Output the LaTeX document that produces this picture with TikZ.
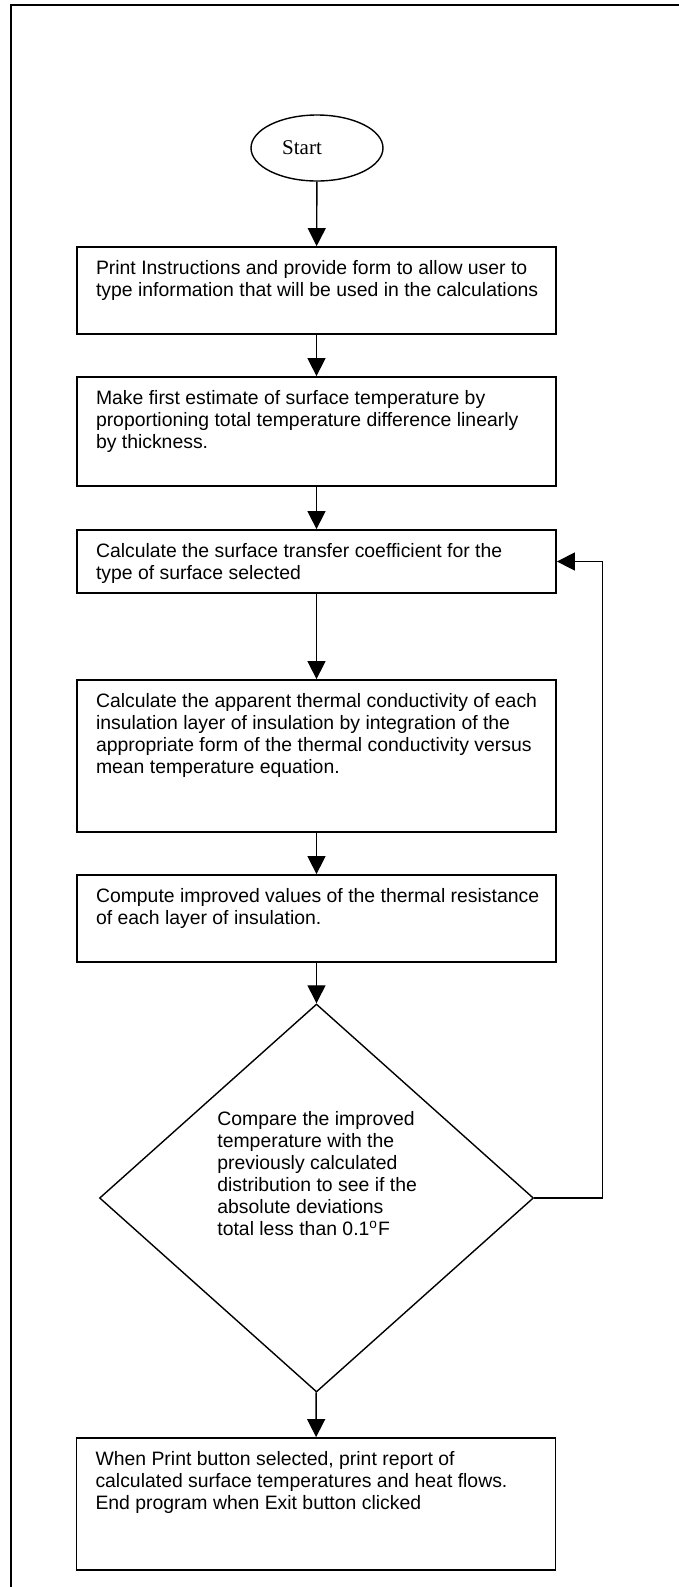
\documentclass[tikz,border=0pt]{standalone}
\usepackage{fontspec}
\setmainfont{Liberation Sans}
\newfontfamily\startfont{Liberation Serif}
\usetikzlibrary{arrows.meta, shapes.geometric, positioning}

\begin{document}
\begin{tikzpicture}[x = 0.5pt, y = -0.5pt, line width = 0.9pt,
		box/.style = {draw, rectangle, inner sep=0pt, minimum width=239.5pt},
		txt/.style = {anchor=north west, align=left, inner sep=0pt, font=\fontsize{9.7}{11}\selectfont},
		flow/.style = {-{Triangle[length=9pt, width=9pt]}, line width=0.7pt}]
	\useasboundingbox (0,0) rectangle (679,1587);
	\draw (679,5) -- (11,5) -- (11,1587);

	\node[draw, ellipse, line width=0.7pt, inner sep=0pt, minimum width=66pt, minimum height=33pt, font=\startfont\fontsize{10.5}{12}\selectfont] (start) at (317,148) {Start\hspace*{15pt}};

	\node[box, minimum height=43.5pt] (b1) at (316.5,290.5) {};
	\node[box, minimum height=54.5pt] (b2) at (316.5,431.5) {};
	\node[box, minimum height=31.5pt] (b3) at (316.5,561.5) {};
	\node[box, minimum height=76pt] (b4) at (316.5,756) {};
	\node[box, minimum height=43.5pt] (b5) at (316.5,918.5) {};
	\node[draw, diamond, line width=0.7pt, inner sep=0pt, minimum width=217pt, minimum height=194pt] (cmp) at (316.5,1198) {};
	\node[box, minimum height=66pt] (b6) at (316,1504) {};

	\node[txt] (b1t) at ([shift={(19,13)}]b1.north west) {Print Instructions and provide form to allow user to\\type information that will be used in the calculations};
	\node[txt] (b2t) at ([shift={(19,13)}]b2.north west) {Make first estimate of surface temperature by\\proportioning total temperature difference linearly\\by thickness.};
	\node[txt] (b3t) at ([shift={(19,13)}]b3.north west) {Calculate the surface transfer coefficient for the\\type of surface selected};
	\node[txt] (b4t) at ([shift={(19,13)}]b4.north west) {Calculate the apparent thermal conductivity of each\\insulation layer of insulation by integration of the\\appropriate form of the thermal conductivity versus\\mean temperature equation.};
	\node[txt] (b5t) at ([shift={(19,13)}]b5.north west) {Compute improved values of the thermal resistance\\of each layer of insulation.};
	\node[txt] (cmpt) at (216.5,1111) {Compare the improved\\temperature with the\\previously calculated\\distribution to see if the\\absolute deviations\\total less than 0.1\textsuperscript{o}F};
	\node[txt] (b6t) at ([shift={(19,13)}]b6.north west) {When Print button selected, print report of\\calculated surface temperatures and heat flows.\\End program when Exit button clicked};

	\path[flow]
		(start) edge (b1)
		(b1) edge (b2)
		(b2) edge (b3)
		(b3) edge (b4)
		(b4) edge (b5)
		(b5) edge (cmp)
		(cmp) edge (b6);
	\draw[flow] (cmp.east) -- ++(68,0) |- (b3.east);
\end{tikzpicture}
\end{document}
